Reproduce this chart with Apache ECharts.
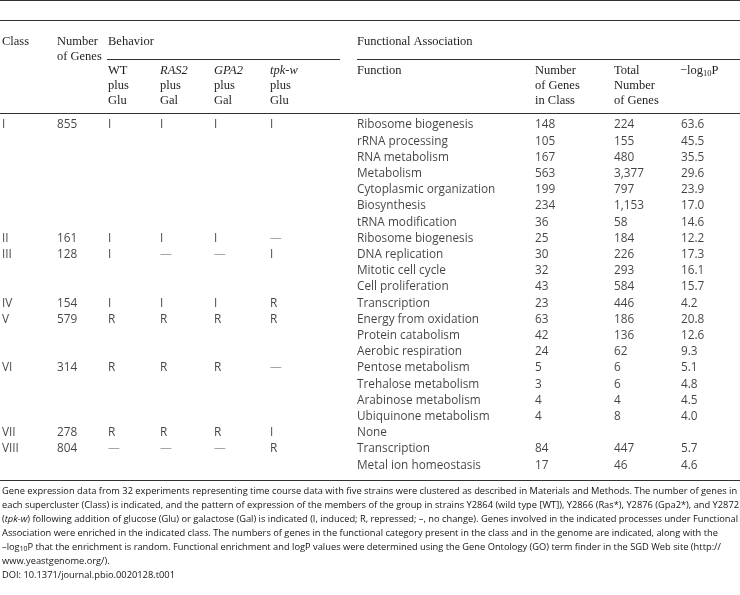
<!DOCTYPE html>
<html><head><meta charset="utf-8">
<script src="https://cdn.jsdelivr.net/npm/echarts@6/dist/echarts.min.js"></script>
<style>html,body{margin:0;padding:0;background:#fff}#c{width:740px;height:595px}</style>
</head><body><div id="c"></div>
<script>
// ---- data (one entry per table row) ----
const classNames = ['I','','','','','','','II','III','','','IV','V','','','VI','','','','VII','VIII',''];
const geneCounts = ['855','','','','','','','161','128','','','154','579','','','314','','','','278','804',''];
const wtGlu   = ['I','','','','','','','I','I','','','I','R','','','R','','','','R','—',''];
const ras2Gal = ['I','','','','','','','I','—','','','I','R','','','R','','','','R','—',''];
const gpa2Gal = ['I','','','','','','','I','—','','','I','R','','','R','','','','R','—',''];
const tpkwGlu = ['I','','','','','','','—','I','','','R','R','','','—','','','','I','R',''];
const functions = ['Ribosome biogenesis','rRNA processing','RNA metabolism','Metabolism','Cytoplasmic organization','Biosynthesis','tRNA modification','Ribosome biogenesis','DNA replication','Mitotic cell cycle','Cell proliferation','Transcription','Energy from oxidation','Protein catabolism','Aerobic respiration','Pentose metabolism','Trehalose metabolism','Arabinose metabolism','Ubiquinone metabolism','None','Transcription','Metal ion homeostasis'];
const genesInClass = ['148','105','167','563','199','234','36','25','30','32','43','23','63','42','24','5','3','4','4','','84','17'];
const totalGenes = ['224','155','480','3,377','797','1,153','58','184','226','293','584','446','186','136','62','6','6','4','8','','447','46'];
const logP = ['63.6','45.5','35.5','29.6','23.9','17.0','14.6','12.2','17.3','16.1','15.7','4.2','20.8','12.6','9.3','5.1','4.8','4.5','4.0','','5.7','4.6'];
const footnote = [
  'Gene expression data from 32 experiments representing time course data with five strains were clustered as described in Materials and Methods. The number of genes in',
  'each supercluster (Class) is indicated, and the pattern of expression of the members of the group in strains Y2864 (wild type [WT]), Y2866 (Ras*), Y2876 (Gpa2*), and Y2872',
  '({i|tpk-w}) following addition of glucose (Glu) or galactose (Gal) is indicated (I, induced; R, repressed; –, no change). Genes involved in the indicated processes under Functional',
  'Association were enriched in the indicated class. The numbers of genes in the functional category present in the class and in the genome are indicated, along with the',
  '–log{s|10}P that the enrichment is random. Functional enrichment and logP values were determined using the Gene Ontology (GO) term finder in the SGD Web site (http://',
  'www.yeastgenome.org/).',
  'DOI: 10.1371/journal.pbio.0020128.t001'
];

// ---- layout ----
const L = {
  rowTop: 125, rowStep: 16.2,
  x: {cls: 2, genes: 57, wt: 108, ras2: 160, gpa2: 214, tpkw: 270, fn: 357, inCls: 535, total: 614, logp: 681},
  lines: {top1: 0.5, top2: 20.5, under: 59.5, head: 113.5, bottom: 480.5},
  behStart: 107, behEnd: 340, faStart: 357,
  head1: 42, head2: 57, sub1: 71, sub2: 86, sub3: 101,
  foot0: 491, footStep: 14
};
const bodyFont = {fontFamily: 'Open Sans', fontSize: 11.8, color: '#141414'};
const headFont = {fontFamily: 'Liberation Serif', fontSize: 12.5, fill: '#1e1e1e'};

const rowIdx = functions.map((_, i) => String(i));

function column(values, x) {
  return {
    type: 'scatter', symbolSize: 0, silent: true, animation: false,
    data: values.map((v, i) => [x, String(i), v]).filter(d => d[2] !== ''),
    label: Object.assign({
      show: true, position: 'right', distance: 0,
      formatter: p => p.value[2]
    }, bodyFont)
  };
}
function behaviorColumn(values, x) {
  const s = column(values, x);
  s.data = s.data.map(d => d[2] === '—' ? {value: d, label: {color: '#888'}} : d);
  return s;
}

function hline(y, x1, x2, w) {
  return {type: 'line', shape: {x1: x1, y1: y, x2: x2, y2: y}, style: {stroke: '#333', lineWidth: w || 1}, silent: true};
}
function htext(x, y, text, opt) {
  return {type: 'text', x: x, y: y, silent: true,
    style: Object.assign({text: text, verticalAlign: 'middle', align: 'left'}, headFont, opt || {})};
}

const W = 740;
const graphic = [
  hline(L.lines.top1, 0, W, 1),
  hline(L.lines.top2, 0, W, 1.2),
  hline(L.lines.under, L.behStart, L.behEnd, 1.2),
  hline(L.lines.under, L.faStart, W, 1.2),
  hline(L.lines.head, 0, W, 1.2),
  hline(L.lines.bottom, 0, W, 1.2),
  htext(L.x.cls, L.head1, 'Class'),
  htext(L.x.genes, L.head1, 'Number'),
  htext(L.x.genes, L.head2, 'of Genes'),
  htext(L.behStart + 1, L.head1, 'Behavior'),
  htext(L.faStart, L.head1, 'Functional Association'),
  htext(L.x.wt, L.sub1, 'WT'),
  htext(L.x.ras2, L.sub1, 'RAS2', {fontStyle: 'italic'}),
  htext(L.x.gpa2, L.sub1, 'GPA2', {fontStyle: 'italic'}),
  htext(L.x.tpkw, L.sub1, 'tpk-w', {fontStyle: 'italic'}),
  htext(L.x.wt, L.sub2, 'plus'), htext(L.x.ras2, L.sub2, 'plus'), htext(L.x.gpa2, L.sub2, 'plus'), htext(L.x.tpkw, L.sub2, 'plus'),
  htext(L.x.wt, L.sub3, 'Glu'), htext(L.x.ras2, L.sub3, 'Gal'), htext(L.x.gpa2, L.sub3, 'Gal'), htext(L.x.tpkw, L.sub3, 'Glu'),
  htext(L.x.fn, L.sub1, 'Function'),
  htext(L.x.inCls, L.sub1, 'Number'), htext(L.x.inCls, L.sub2, 'of Genes'), htext(L.x.inCls, L.sub3, 'in Class'),
  htext(L.x.total, L.sub1, 'Total'), htext(L.x.total, L.sub2, 'Number'), htext(L.x.total, L.sub3, 'of Genes'),
  htext(L.x.logp - 1, L.sub1, '{n|−log}{s|10}{n|P}', {rich: {
    n: {fontFamily: 'Liberation Serif', fontSize: 12.5, fill: '#1e1e1e', verticalAlign: 'middle'},
    s: {fontFamily: 'Liberation Serif', fontSize: 8.5, fill: '#1e1e1e', padding: [6, 0, 0, 0]}
  }})
];
footnote.forEach((t, i) => {
  graphic.push({type: 'text', x: 2, y: L.foot0 + i * L.footStep, silent: true,
    style: {text: t, fontFamily: 'Open Sans', fontSize: 9.3, fill: '#141414', verticalAlign: 'middle', align: 'left',
      rich: {
        i: {fontFamily: 'Open Sans', fontSize: 9.3, fontStyle: 'italic', fill: '#141414'},
        s: {fontFamily: 'Open Sans', fontSize: 6.8, fill: '#141414', padding: [5, 0, 0, 0]}
      }}});
});

const chart = echarts.init(document.getElementById('c'), null, {renderer: 'canvas'});
chart.setOption({
  backgroundColor: '#fff',
  animation: false,
  grid: {left: 0, right: 0, top: L.rowTop - L.rowStep / 2, height: L.rowStep * functions.length, containLabel: false},
  xAxis: {type: 'value', min: 0, max: W, show: false},
  yAxis: {type: 'category', data: rowIdx, inverse: true, show: false},
  series: [
    column(classNames, L.x.cls),
    column(geneCounts, L.x.genes),
    behaviorColumn(wtGlu, L.x.wt),
    behaviorColumn(ras2Gal, L.x.ras2),
    behaviorColumn(gpa2Gal, L.x.gpa2),
    behaviorColumn(tpkwGlu, L.x.tpkw),
    column(functions, L.x.fn),
    column(genesInClass, L.x.inCls),
    column(totalGenes, L.x.total),
    column(logP, L.x.logp)
  ],
  graphic: graphic
});
</script></body></html>
